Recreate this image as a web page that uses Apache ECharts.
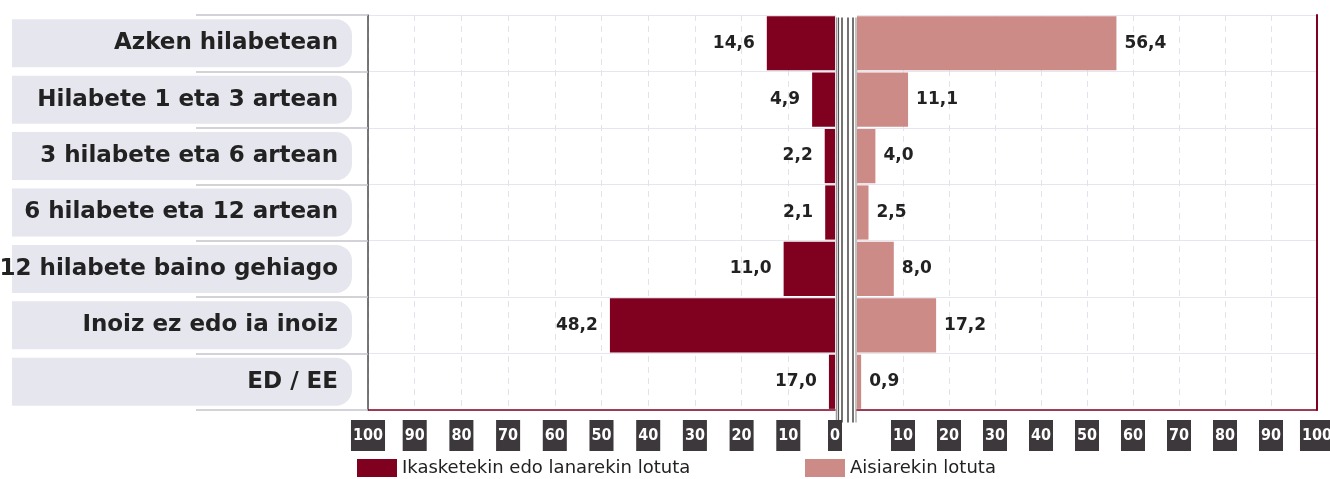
<!DOCTYPE html>
<html>
<head>
<meta charset="utf-8">
<script src="https://cdn.jsdelivr.net/npm/echarts@6/dist/echarts.min.js"></script>
<style>
  html, body { margin: 0; padding: 0; background: #fff; }
  #chart { width: 1330px; height: 479px; }
</style>
</head>
<body>
<div id="chart"></div>
<script>
// kategoriak eta datuak
const categories = [
    'Azken hilabetean',
    'Hilabete 1 eta 3 artean',
    '3 hilabete eta 6 artean',
    '6 hilabete eta 12 artean',
    '12 hilabete baino gehiago',
    'Inoiz ez edo ia inoiz',
    'ED / EE'
];
// bar lengths as drawn (ED / EE bar is drawn short although its label says 17,0)
const workValues = [14.6, 4.9, 2.2, 2.1, 11.0, 48.2, 1.3];
const workLabels = ['14,6', '4,9', '2,2', '2,1', '11,0', '48,2', '17,0'];
const leisureValues = [56.4, 11.1, 4.0, 2.5, 8.0, 17.2, 0.9];
const leisureLabels = ['56,4', '11,1', '4,0', '2,5', '8,0', '17,2', '0,9'];
const seriesNames = ['Ikasketekin edo lanarekin lotuta', 'Aisiarekin lotuta'];

const dom = document.getElementById('chart');
const myChart = echarts.init(dom);

const darkRed = '#800020';
const pink = '#cd8b88';
const font = '"DejaVu Sans", "Liberation Sans", sans-serif';

// ardatzaren etiketak (kutxa ilunak)
const tickLabel = {
    margin: 10,
    color: '#fff',
    fontFamily: '"DejaVu Sans Condensed", "Liberation Sans Narrow", sans-serif',
    fontWeight: 'bold',
    fontSize: 16,
    backgroundColor: '#3d383b',
    padding: [8, 2, 7, 2]
};

const valueLabel = {
    fontFamily: font,
    fontSize: 17, fontWeight: 'bold', color: '#222'
};

const option = {
    animation: false,
    textStyle: { fontFamily: font },
    legend: [
        {
            data: [seriesNames[0]],
            left: 357, top: 459, padding: 0,
            icon: 'rect', itemWidth: 40, itemHeight: 18,
            textStyle: { fontFamily: font, fontSize: 18, color: '#222' }
        },
        {
            data: [seriesNames[1]],
            left: 805, top: 459, padding: 0,
            icon: 'rect', itemWidth: 40, itemHeight: 18,
            textStyle: { fontFamily: font, fontSize: 18, color: '#222' }
        }
    ],
    grid: [
        { left: 368, right: 495, top: 15, bottom: 69, outerBoundsMode: 'none' },
        { left: 857, right: 13, top: 15, bottom: 69, outerBoundsMode: 'none' }
    ],
    xAxis: [
        {
            gridIndex: 0, type: 'value', inverse: true,
            min: 0, max: 100, interval: 10,
            axisLine: { show: true, lineStyle: { color: darkRed, width: 1.5 } },
            axisTick: { show: false },
            splitLine: { show: true, lineStyle: { color: '#e2e2ec', type: [6, 5] } },
            axisLabel: tickLabel
        },
        {
            gridIndex: 1, type: 'value',
            min: 0, max: 100, interval: 10,
            axisLine: { show: true, lineStyle: { color: darkRed, width: 1.5 } },
            axisTick: { show: false },
            splitLine: { show: true, lineStyle: { color: '#e2e2ec', type: [6, 5] } },
            axisLabel: Object.assign({}, tickLabel, { showMinLabel: false })
        }
    ],
    yAxis: [
        {
            gridIndex: 0, type: 'category', data: categories, inverse: true,
            position: 'left',
            axisLine: { show: true, onZero: false, lineStyle: { color: '#4a4a4a', width: 1.5 } },
            axisTick: { show: true, length: 172, lineStyle: { color: '#c4c4cc', width: 1.5 } },
            splitLine: { show: true, lineStyle: { color: '#e6e6ee' } },
            axisLabel: {
                margin: 16,
                fontFamily: font,
                fontSize: 23,
                fontWeight: 'bold',
                color: '#222',
                align: 'right',
                width: 326,
                height: 48,
                lineHeight: 48,
                padding: [0, 14, 0, 0],
                backgroundColor: '#e6e6ee',
                borderRadius: [0, 16, 16, 0]
            }
        },
        {
            gridIndex: 1, type: 'category', data: categories, inverse: true,
            position: 'right',
            axisLine: { show: true, onZero: false, lineStyle: { color: darkRed, width: 2 } },
            axisTick: { show: false },
            splitLine: { show: true, lineStyle: { color: '#e6e6ee' } },
            axisLabel: { show: false }
        }
    ],
    series: [
        {
            name: seriesNames[0],
            type: 'bar',
            xAxisIndex: 0, yAxisIndex: 0,
            data: workValues,
            barCategoryGap: '4%',
            itemStyle: { color: darkRed },
            label: Object.assign({
                show: true, position: 'left', distance: 12,
                formatter: p => workLabels[p.dataIndex]
            }, valueLabel)
        },
        {
            name: seriesNames[1],
            type: 'bar',
            xAxisIndex: 1, yAxisIndex: 1,
            data: leisureValues,
            barCategoryGap: '4%',
            itemStyle: { color: pink },
            label: Object.assign({
                show: true, position: 'right', distance: 8,
                formatter: p => leisureLabels[p.dataIndex]
            }, valueLabel)
        }
    ],
    graphic: [
        {
            type: 'group',
            left: 834, top: 15,
            children: [
                { type: 'rect', shape: { x: 0, y: 0, width: 23, height: 405 }, style: { fill: '#fff' } },
                { type: 'line', shape: { x1: 1.5, y1: 0, x2: 1.5, y2: 405 }, style: { stroke: '#9a9a9a', lineWidth: 1.5 } },
                { type: 'line', shape: { x1: 3.5, y1: 0, x2: 3.5, y2: 405 }, style: { stroke: '#555', lineWidth: 1.2 } },
                { type: 'line', shape: { x1: 7, y1: 0, x2: 7, y2: 405 }, style: { stroke: '#444', lineWidth: 1.5 } },
                { type: 'line', shape: { x1: 13, y1: 0, x2: 13, y2: 405 }, style: { stroke: '#444', lineWidth: 1.5 } },
                { type: 'line', shape: { x1: 18, y1: 0, x2: 18, y2: 405 }, style: { stroke: '#444', lineWidth: 1.5 } },
                { type: 'line', shape: { x1: 21, y1: 0, x2: 21, y2: 405 }, style: { stroke: '#9a9a9a', lineWidth: 1.2 } }
            ]
        }
    ]
};
myChart.setOption(option);

window.addEventListener('resize', () => {
    setTimeout(() => {
        myChart.resize();
    }, 10);
});
</script>
</body>
</html>
